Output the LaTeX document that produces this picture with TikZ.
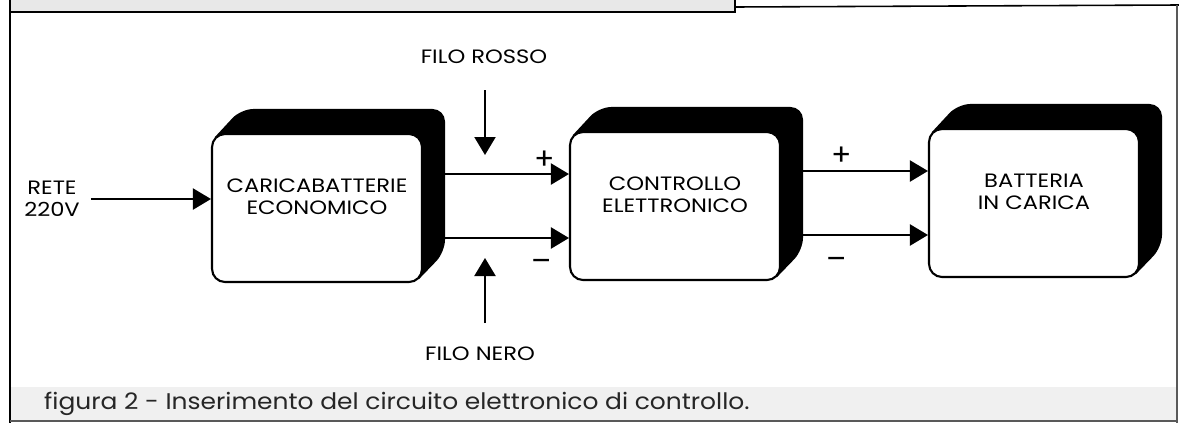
\documentclass[tikz,border=0pt]{standalone}
\usepackage{fontspec}
\setmainfont{Poppins}
\newfontfamily\labelfont{Poppins}[FakeStretch=1.17]
\newfontfamily\captionfont{Poppins}[FakeStretch=1.1]
\usetikzlibrary{arrows.meta, positioning, backgrounds}

\begin{document}
\begin{tikzpicture}[x=0.02cm, y=-0.02cm,
  every node/.style={font=\labelfont\fontsize{11}{12.5}\selectfont},
  box/.style={draw, line width=1.2pt, fill=white, rounded corners=0.26cm,
    minimum width=4.2cm, minimum height=2.96cm},
  boxtext/.style={align=center},
  wire/.style={line width=1.2pt, -{Triangle[length=0.36cm, width=0.42cm]}},
  sign/.style={font=\fontsize{17}{17}\selectfont, inner sep=0pt}]
  % picture area in pixels of the scan (1179 x 423)
  \useasboundingbox (0,0) rectangle (1179,423);

  % page frame of the scan
  \fill[gray!18] (10,0) rectangle (735,12);
  \draw[line width=1.2pt] (10,0) -- (10,423);
  \draw[line width=1.2pt] (10,12) -- (735,12) -- (735,0);
  \draw[line width=0.9pt] (735,7) -- (1179,5);
  \draw[gray!70!black, line width=0.6pt] (1177,5) -- (1177,423);
  % caption band
  \fill[gray!12] (11,387) rectangle (1176,421);
  \draw[gray!70!black, line width=0.6pt] (10,421) -- (1177,421);

  % blocks
  \node[box] (cb) at (317,208) {};
  \node[box] (ce) at (675,206) {};
  \node[box] (bt) at (1034,203) {};
  \node[boxtext] (cb-t) at ([yshift=0.23cm]cb.center) {CARICABATTERIE\\ECONOMICO};
  \node[boxtext] (ce-t) at ([yshift=0.23cm]ce.center) {CONTROLLO\\ELETTRONICO};
  \node[boxtext] (bt-t) at ([yshift=0.23cm]bt.center) {BATTERIA\\IN CARICA};

  % black 3d shadows behind the blocks
  \begin{scope}[on background layer]
    \foreach \b in {cb, ce, bt} {
      \fill[rounded corners=0.25cm] ([shift={(0.08cm,-0.08cm)}]\b.north west)
        -- ([shift={(0.6cm,0.48cm)}]\b.north west)
        -- ([shift={(0.44cm,0.48cm)}]\b.north east)
        -- ([shift={(0.44cm,0.62cm)}]\b.south east)
        [sharp corners] -- ([shift={(-0.08cm,0.08cm)}]\b.south east)
        -- (\b.center) -- cycle;
    }
  \end{scope}

  % mains input
  \node[align=center] (rete) at (52,199) {RETE\\220V};
  \draw[wire] ([xshift=0.1cm]rete.east) -- (rete.east -| cb.west);

  % wires charger -> control
  \coordinate (cb-out) at ([xshift=0.44cm]cb.east);
  \coordinate (ce-p) at ([yshift=0.64cm]ce.west);
  \coordinate (ce-m) at ([yshift=-0.64cm]ce.west);
  \draw[wire] (ce-p -| cb-out) -- (ce-p);
  \draw[wire] (ce-m -| cb-out) -- (ce-m);
  \node[sign] (ce-plus) at (545,160) {+};
  \node[sign] (ce-minus) at (542,265) {–};

  % wires control -> battery
  \coordinate (ce-out) at ([xshift=0.44cm]ce.east);
  \coordinate (bt-p) at ([yshift=0.64cm]bt.west);
  \coordinate (bt-m) at ([yshift=-0.64cm]bt.west);
  \draw[wire] (bt-p -| ce-out) -- (bt-p);
  \draw[wire] (bt-m -| ce-out) -- (bt-m);
  \node[sign] (bt-plus) at (842,156) {+};
  \node[sign] (bt-minus) at (837,263) {–};

  % red and black wire labels
  \node (rosso) at (484,57) {FILO ROSSO};
  \coordinate (rosso-a) at (485,90);
  \coordinate (rosso-b) at (485,155);
  \draw[wire] (rosso-a) -- (rosso-b);
  \node (nero) at (480,354) {FILO NERO};
  \coordinate (nero-a) at (485,323);
  \coordinate (nero-b) at (485,258);
  \draw[wire] (nero-a) -- (nero-b);

  % caption
  \node[anchor=west, text=black!85, font=\captionfont\fontsize{12.9}{14}\selectfont] (caption) at (38,404)
    {figura 2 - Inserimento del circuito elettronico di controllo.};
\end{tikzpicture}
\end{document}
